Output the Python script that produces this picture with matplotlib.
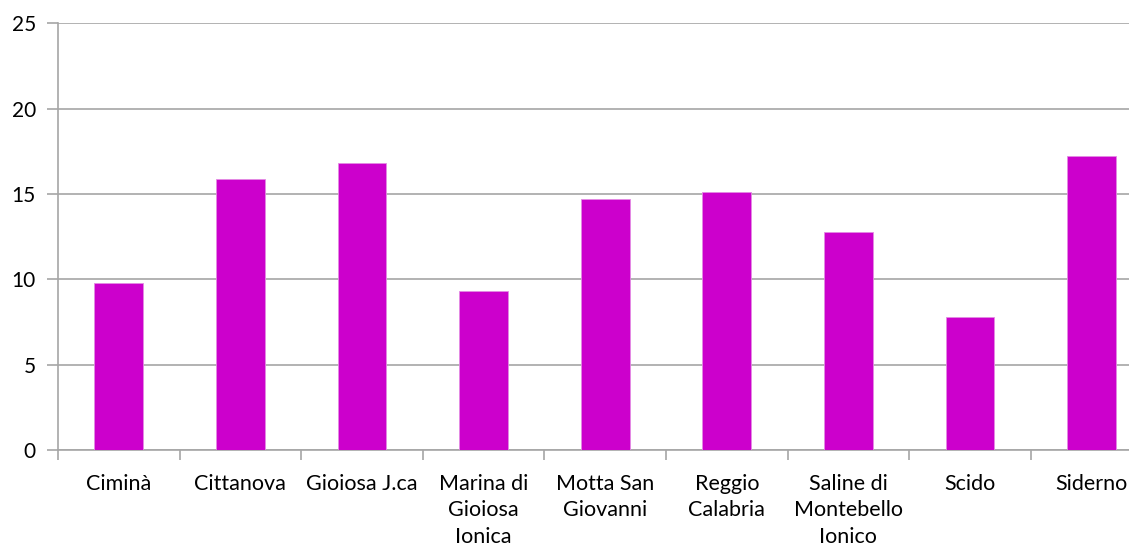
import matplotlib
matplotlib.use("Agg")
import matplotlib.pyplot as plt
import numpy as np

categories = ["Ciminà", "Cittanova", "Gioiosa J.ca", "Marina di\nGioiosa\nIonica",
              "Motta San\nGiovanni", "Reggio\nCalabria", "Saline di\nMontebello\nIonico",
              "Scido", "Siderno"]
values = [9.8, 15.9, 16.8, 9.3, 14.7, 15.1, 12.8, 7.8, 17.2]
yticks = [0, 5, 10, 15, 20, 25]

plt.rcParams['font.family'] = ['Lato', 'DejaVu Sans']

fig = plt.figure(figsize=(11.29, 5.48), dpi=100)
ax = fig.add_axes([58/1129, (548-450)/548, 1094.4/1129, 426.7/548])

x = np.arange(len(categories))
ax.bar(x, values, width=0.4, color='#CC00CC', edgecolor='#E38BE3', linewidth=0.6, zorder=3)

ax.set_xlim(-0.5, len(categories) - 0.5)
ax.set_ylim(0, 25)
ax.set_yticks(yticks)
ax.set_yticklabels([str(v) for v in yticks], fontsize=15)
ax.yaxis.grid(True, color='#A6A6A6', linewidth=1.2, zorder=0)
ax.set_axisbelow(True)

ax.set_xticks(x)
ax.set_xticklabels(categories, fontsize=15.5, va='top')
for lbl in ax.get_xticklabels():
    lbl.set_linespacing(1.42)
ax.set_xticks(np.arange(len(categories)) - 0.5, minor=True)
ax.tick_params(axis='x', which='major', length=0, pad=17)
ax.tick_params(axis='x', which='minor', length=7, width=1.2, color='#A6A6A6', direction='out')
ax.tick_params(axis='y', length=8, width=1.2, color='#A6A6A6', pad=8)

for s in ['top', 'right']:
    ax.spines[s].set_visible(False)
for s in ['left', 'bottom']:
    ax.spines[s].set_color('#A6A6A6')
    ax.spines[s].set_linewidth(1.2)

fig.savefig("out.png", dpi=100)
